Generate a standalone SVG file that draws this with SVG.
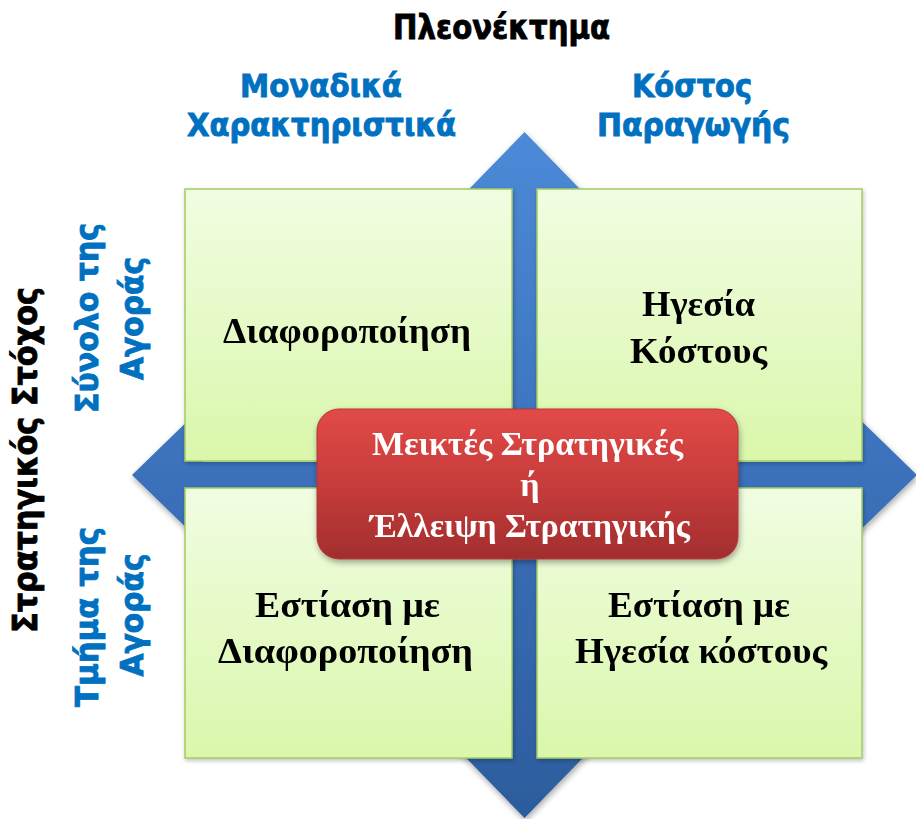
<svg xmlns="http://www.w3.org/2000/svg" width="916" height="819" viewBox="0 0 916 819">
  <defs>
    <linearGradient id="arrowFill" gradientUnits="userSpaceOnUse" x1="0" y1="132" x2="0" y2="818">
      <stop offset="0" stop-color="#4c8ad7"/>
      <stop offset="0.5" stop-color="#3b71bb"/>
      <stop offset="1" stop-color="#2c5c9c"/>
    </linearGradient>
    <linearGradient id="cellFill" x1="0" y1="0" x2="0" y2="1">
      <stop offset="0" stop-color="#f1fde2"/>
      <stop offset="1" stop-color="#daf7ab"/>
    </linearGradient>
    <linearGradient id="redFill" x1="0" y1="0" x2="0" y2="1">
      <stop offset="0" stop-color="#e24a47"/>
      <stop offset="0.5" stop-color="#c73c3b"/>
      <stop offset="1" stop-color="#a22e2e"/>
    </linearGradient>
    <filter id="shadow" x="-10%" y="-10%" width="125%" height="130%">
      <feGaussianBlur in="SourceAlpha" stdDeviation="3"/>
      <feOffset dx="1" dy="3" result="b"/>
      <feComponentTransfer><feFuncA type="linear" slope="0.35"/></feComponentTransfer>
      <feMerge><feMergeNode/><feMergeNode in="SourceGraphic"/></feMerge>
    </filter>
    <filter id="softShadow" x="-5%" y="-5%" width="112%" height="115%">
      <feGaussianBlur in="SourceAlpha" stdDeviation="2"/>
      <feOffset dx="1" dy="2" result="b"/>
      <feComponentTransfer><feFuncA type="linear" slope="0.25"/></feComponentTransfer>
      <feMerge><feMergeNode/><feMergeNode in="SourceGraphic"/></feMerge>
    </filter>
  </defs>
  <style>
    .axis { font-family: "DejaVu Sans", "Liberation Sans", sans-serif; font-weight: bold; fill: #000000; stroke: #000000; stroke-width: 0.9; font-size: 34px; }
    .sub { font-family: "DejaVu Sans", "Liberation Sans", sans-serif; font-weight: bold; fill: #0070c0; stroke: #0070c0; stroke-width: 0.9; font-size: 32px; }
    .cell { fill: url(#cellFill); stroke: #a3cb64; stroke-width: 1.5; }
    .cellText { font-family: "Liberation Serif", "Times New Roman", serif; font-weight: bold; font-size: 36px; fill: #000000; text-anchor: middle; }
    .redText { font-family: "Liberation Serif", "Times New Roman", serif; font-weight: bold; font-size: 34px; fill: #ffffff; text-anchor: middle; }
  </style>

  <rect width="916" height="819" fill="#ffffff"/>

  <!-- axis titles -->
  <g id="axis-top">
    <text class="axis" x="501.5" y="39" text-anchor="middle" textLength="217" lengthAdjust="spacingAndGlyphs">Πλεονέκτημα</text>
  </g>
  <g id="axis-left">
    <text class="axis" transform="translate(37,460) rotate(-90)" text-anchor="middle" textLength="346" lengthAdjust="spacingAndGlyphs">Στρατηγικός  Στόχος</text>
  </g>

  <!-- column headings -->
  <g id="col-unique">
    <text class="sub" x="321" y="97" text-anchor="middle" textLength="162" lengthAdjust="spacingAndGlyphs">Μοναδικά</text>
    <text class="sub" x="321.5" y="136" text-anchor="middle" textLength="269" lengthAdjust="spacingAndGlyphs">Χαρακτηριστικά</text>
  </g>
  <g id="col-cost">
    <text class="sub" x="692" y="97" text-anchor="middle" textLength="120" lengthAdjust="spacingAndGlyphs">Κόστος</text>
    <text class="sub" x="693.5" y="136" text-anchor="middle" textLength="193" lengthAdjust="spacingAndGlyphs">Παραγωγής</text>
  </g>

  <!-- row headings -->
  <g id="row-whole">
    <text class="sub" transform="translate(98,318) rotate(-90)" text-anchor="middle" textLength="190" lengthAdjust="spacingAndGlyphs">Σύνολο της</text>
    <text class="sub" transform="translate(143,318.5) rotate(-90)" text-anchor="middle" textLength="123" lengthAdjust="spacingAndGlyphs">Αγοράς</text>
  </g>
  <g id="row-segment">
    <text class="sub" transform="translate(98,617) rotate(-90)" text-anchor="middle" textLength="180" lengthAdjust="spacingAndGlyphs">Τμήμα της</text>
    <text class="sub" transform="translate(143,615) rotate(-90)" text-anchor="middle" textLength="123" lengthAdjust="spacingAndGlyphs">Αγοράς</text>
  </g>

  <!-- four-way arrow behind the grid -->
  <g id="connectors" filter="url(#shadow)">
    <polygon fill="url(#arrowFill)" points="524.5,132 592.5,202 537,202 537,462 847,462 847,407 917,475 847,543 847,488 537,488 537,748 592.5,748 524.5,818 456.5,748 512,748 512,488 202,488 202,543 132,475 202,407 202,462 512,462 512,202 456.5,202"/>
  </g>

  <!-- quadrants -->
  <g id="cell-differentiation" filter="url(#softShadow)">
    <rect class="cell" x="185" y="189" width="327" height="272"/>
    <text class="cellText" x="347" y="343" textLength="248" lengthAdjust="spacingAndGlyphs">Διαφοροποίηση</text>
  </g>
  <g id="cell-cost-leadership" filter="url(#softShadow)">
    <rect class="cell" x="537" y="189" width="325" height="272"/>
    <text class="cellText" x="698.5" y="316" textLength="113" lengthAdjust="spacingAndGlyphs">Ηγεσία</text>
    <text class="cellText" x="698.5" y="363" textLength="137" lengthAdjust="spacingAndGlyphs">Κόστους</text>
  </g>
  <g id="cell-focus-differentiation" filter="url(#softShadow)">
    <rect class="cell" x="185" y="488" width="327" height="270"/>
    <text class="cellText" x="347.5" y="617" textLength="185" lengthAdjust="spacingAndGlyphs">Εστίαση με</text>
    <text class="cellText" x="345.5" y="663" textLength="255" lengthAdjust="spacingAndGlyphs">Διαφοροποίηση</text>
  </g>
  <g id="cell-focus-cost" filter="url(#softShadow)">
    <rect class="cell" x="537" y="488" width="325" height="270"/>
    <text class="cellText" x="699" y="617" textLength="182" lengthAdjust="spacingAndGlyphs">Εστίαση με</text>
    <text class="cellText" x="701" y="663" textLength="252" lengthAdjust="spacingAndGlyphs">Ηγεσία κόστους</text>
  </g>

  <!-- central box -->
  <g id="mixed-strategies" filter="url(#shadow)">
    <rect x="317" y="409" width="421" height="150" rx="22" ry="22" fill="url(#redFill)" stroke="#b03636" stroke-width="1"/>
    <text class="redText" x="527.5" y="455" textLength="311" lengthAdjust="spacingAndGlyphs">Μεικτές Στρατηγικές</text>
    <text class="redText" x="530" y="496">ή</text>
    <text class="redText" x="530" y="537" textLength="320" lengthAdjust="spacingAndGlyphs">Έλλειψη Στρατηγικής</text>
  </g>
</svg>
